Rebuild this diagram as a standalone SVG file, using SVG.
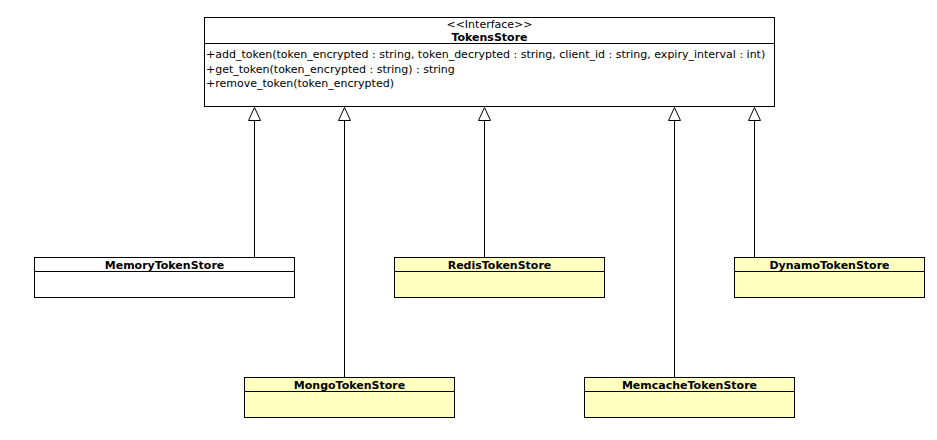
<svg xmlns="http://www.w3.org/2000/svg" width="937" height="440" viewBox="0 0 937 440">
<style>
.box{stroke:#000;stroke-width:1}
.w{fill:#fff}
.y{fill:#ffffc0}
.t{font-family:"DejaVu Sans",sans-serif;font-size:11px;fill:#000}
.b{font-weight:bold;text-anchor:middle}
.c{text-anchor:middle}
.ln{stroke:#000;stroke-width:1;fill:none}
.tri{fill:#fff;stroke:#000;stroke-width:1}
</style>
<rect width="937" height="440" fill="#fff"/>
<g id="TokensStore">
<rect class="box w" x="204.5" y="17.5" width="570" height="89"/>
<line class="ln" x1="204.5" y1="43.5" x2="774.5" y2="43.5"/>
<text class="t c" x="489.5" y="28">&lt;&lt;Interface&gt;&gt;</text>
<text class="t b" x="489.5" y="41">TokensStore</text>
<text class="t" x="206" y="58">+add_token(token_encrypted : string, token_decrypted : string, client_id : string, expiry_interval : int)</text>
<text class="t" x="206" y="72.5">+get_token(token_encrypted : string) : string</text>
<text class="t" x="206" y="87">+remove_token(token_encrypted)</text>
</g>
<g id="MemoryTokenStore">
<rect class="box w" x="34.5" y="257.5" width="260" height="40"/>
<line class="ln" x1="34.5" y1="271.5" x2="294.5" y2="271.5"/>
<text class="t b" x="164.5" y="268.5">MemoryTokenStore</text>
</g>
<g id="RedisTokenStore">
<rect class="box y" x="394.5" y="257.5" width="210" height="40"/>
<line class="ln" x1="394.5" y1="271.5" x2="604.5" y2="271.5"/>
<text class="t b" x="499.5" y="268.5">RedisTokenStore</text>
</g>
<g id="DynamoTokenStore">
<rect class="box y" x="734.5" y="257.5" width="190" height="40"/>
<line class="ln" x1="734.5" y1="271.5" x2="924.5" y2="271.5"/>
<text class="t b" x="829.5" y="268.5">DynamoTokenStore</text>
</g>
<g id="MongoTokenStore">
<rect class="box y" x="244.5" y="377.5" width="210" height="40"/>
<line class="ln" x1="244.5" y1="391.5" x2="454.5" y2="391.5"/>
<text class="t b" x="349.5" y="388.5">MongoTokenStore</text>
</g>
<g id="MemcacheTokenStore">
<rect class="box y" x="584.5" y="377.5" width="210" height="40"/>
<line class="ln" x1="584.5" y1="391.5" x2="794.5" y2="391.5"/>
<text class="t b" x="689.5" y="388.5">MemcacheTokenStore</text>
</g>
<g id="connectors">
<line class="ln" x1="254.5" y1="120" x2="254.5" y2="257"/>
<polygon class="tri" points="254.5,107.5 248.5,120.5 260.5,120.5"/>
<line class="ln" x1="344.5" y1="120" x2="344.5" y2="377"/>
<polygon class="tri" points="344.5,107.5 338.5,120.5 350.5,120.5"/>
<line class="ln" x1="484.5" y1="120" x2="484.5" y2="257"/>
<polygon class="tri" points="484.5,107.5 478.5,120.5 490.5,120.5"/>
<line class="ln" x1="674.5" y1="120" x2="674.5" y2="377"/>
<polygon class="tri" points="674.5,107.5 668.5,120.5 680.5,120.5"/>
<line class="ln" x1="754.5" y1="120" x2="754.5" y2="257"/>
<polygon class="tri" points="754.5,107.5 748.5,120.5 760.5,120.5"/>
</g>
</svg>
